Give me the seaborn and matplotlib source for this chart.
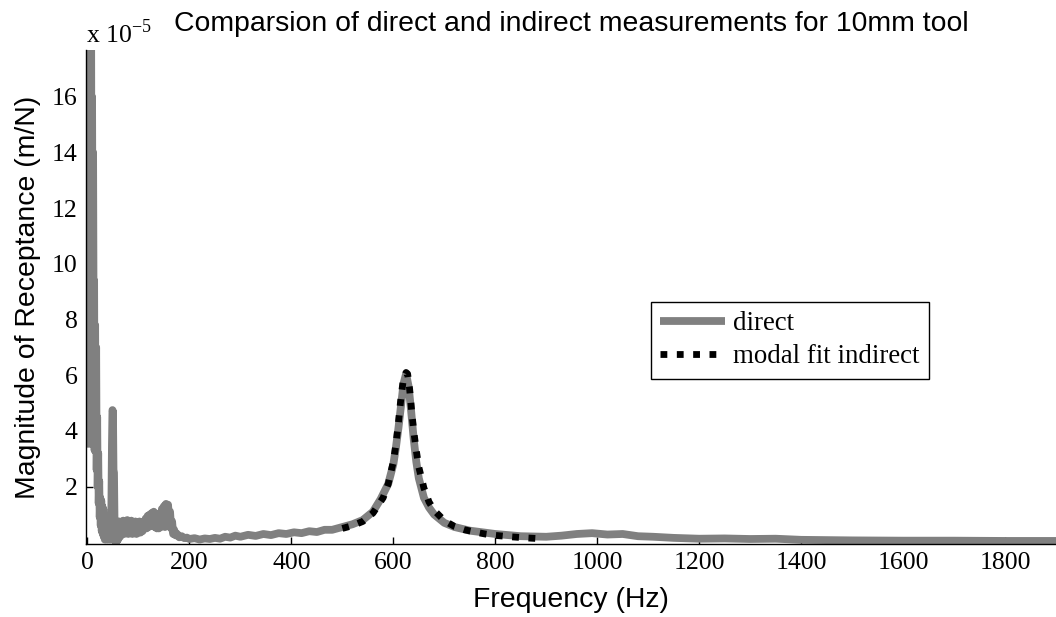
import matplotlib
matplotlib.use("Agg")
import matplotlib.pyplot as plt
import seaborn as sns
import pandas as pd

# Direct measurement: frequency (Hz) and receptance magnitude (x 1e-5 m/N)
direct_freq = [0, 1, 2, 3, 4, 5, 6, 7, 8, 9, 10, 11, 12, 13, 14, 15, 16, 17, 18, 19,
               20, 21, 22, 23, 24, 25, 26, 27, 28, 29, 30, 31, 32, 33, 34, 35, 36, 37,
               38, 39, 40, 41, 42, 43, 44, 45, 46, 47, 48, 49, 50, 51, 52, 53, 54, 55,
               56, 57, 58, 59, 60, 62, 64, 66, 68, 70, 72, 74, 76, 78, 80, 82, 84, 86,
               88, 90, 92, 94, 96, 98, 100, 102, 104, 106, 108, 110, 112, 114, 116, 118,
               120, 122, 124, 126, 128, 130, 132, 134, 136, 138, 140, 142, 144, 146, 148,
               150, 152, 154, 156, 158, 160, 162, 164, 166, 168, 170, 173, 176, 180, 185,
               190, 195, 200, 210, 220, 230, 240, 250, 260, 270, 280, 290, 300, 315, 330,
               345, 360, 375, 390, 405, 420, 435, 450, 465, 480, 500, 520, 540, 560, 575,
               590, 600, 605, 610, 615, 620, 625, 630, 635, 640, 645, 650, 660, 670, 680,
               700, 720, 750, 800, 850, 900, 930, 960, 990, 1020, 1050, 1080, 1110, 1150,
               1200, 1250, 1300, 1350, 1400, 1500, 1600, 1700, 1800, 1900]
direct_mag = [3.4, 30, 18, 30, 16.3, 25, 16.0, 20, 9.5, 16, 9.4, 14, 7.8, 9.4, 3.3,
              7.8, 3.5, 7.0, 2.6, 4.5, 2.0, 3.2, 1.4, 2.2, 0.9, 1.6, 0.6, 1.5, 0.4, 1.3,
              0.3, 1.2, 0.2, 1.0, 0.1, 0.9, 0.15, 0.8, 0.1, 0.75, 0.15, 0.7, 0.1, 0.75,
              0.2, 0.7, 0.1, 1.5, 3.5, 4.75, 4.7, 2.6, 2.5, 0.8, 0.05, 0.7, 0.0, 0.75,
              0.05, 0.7, 0.1, 0.75, 0.2, 0.72, 0.3, 0.78, 0.3, 0.72, 0.35, 0.8, 0.3,
              0.75, 0.35, 0.78, 0.3, 0.72, 0.35, 0.75, 0.3, 0.7, 0.35, 0.75, 0.35, 0.72,
              0.4, 0.72, 0.5, 0.85, 0.5, 0.95, 0.55, 1.0, 0.6, 1.05, 0.6, 1.1, 0.55, 1.0,
              0.5, 0.95, 0.5, 1.05, 0.55, 1.2, 0.6, 1.3, 0.55, 1.38, 0.65, 1.35, 0.9, 1.1,
              0.5, 0.75, 0.3, 0.45, 0.25, 0.3, 0.18, 0.22, 0.15, 0.17, 0.12, 0.15, 0.1,
              0.14, 0.12, 0.16, 0.13, 0.2, 0.17, 0.24, 0.2, 0.27, 0.23, 0.3, 0.26, 0.33,
              0.3, 0.36, 0.33, 0.4, 0.37, 0.45, 0.45, 0.55, 0.65, 0.8, 1.1, 1.55, 2.1,
              2.8, 3.4, 4.1, 4.9, 5.7, 6.05, 5.6, 4.7, 3.7, 2.9, 2.3, 1.6, 1.25, 1.0,
              0.7, 0.55, 0.42, 0.3, 0.22, 0.2, 0.24, 0.3, 0.33, 0.28, 0.3, 0.22, 0.2,
              0.16, 0.13, 0.14, 0.12, 0.13, 0.09, 0.07, 0.06, 0.06, 0.05, 0.05]

# Modal fit from the indirect measurement
fit_freq = [500, 520, 540, 560, 580, 590, 600, 605, 610, 615, 620, 625, 628, 632, 636,
            640, 645, 650, 660, 670, 680, 700, 720, 740, 760, 780, 800, 830, 860, 880]
fit_mag = [0.5, 0.6, 0.75, 1.05, 1.6, 2.1, 2.9, 3.5, 4.3, 5.2, 5.9, 6.1, 6.05, 5.5, 4.7,
           4.0, 3.3, 2.7, 1.95, 1.45, 1.15, 0.78, 0.57, 0.45, 0.37, 0.3, 0.25, 0.2,
           0.16, 0.14]

x_ticks = [0, 200, 400, 600, 800, 1000, 1200, 1400, 1600, 1800]
y_ticks = [2, 4, 6, 8, 10, 12, 14, 16]

sns.set_theme(style="white")
plt.rcParams["font.family"] = ["Liberation Sans", "DejaVu Sans"]
plt.rcParams["mathtext.fontset"] = "custom"
plt.rcParams["mathtext.rm"] = "Liberation Serif"
for key in ("text.color", "axes.labelcolor", "xtick.color", "ytick.color"):
    plt.rcParams[key] = "black"

direct = pd.DataFrame({"freq": direct_freq, "mag": direct_mag})
fit = pd.DataFrame({"freq": fit_freq, "mag": fit_mag})

fig = plt.figure(figsize=(10.56, 6.17), dpi=100)
ax = fig.add_axes([0.0814, 0.1183, 0.9186, 0.8006])

sns.lineplot(data=direct, x="freq", y="mag", ax=ax, color="#808080", linewidth=5.6,
             estimator=None, sort=False, label="direct",
             solid_joinstyle="round", solid_capstyle="butt")
sns.lineplot(data=fit, x="freq", y="mag", ax=ax, color="black", linewidth=4.9,
             estimator=None, sort=False, label="modal fit indirect",
             dashes=False, linestyle=(0, (1.0, 1.4)), dash_capstyle="butt")

ax.set_xlim(-3, 1900)
ax.set_ylim(-0.06, 17.68)
ax.set_xticks(x_ticks)
ax.set_yticks(y_ticks)
ax.set_xticklabels([str(v) for v in x_ticks], family="Liberation Serif", fontsize=18.5)
ax.set_yticklabels([str(v) for v in y_ticks], family="Liberation Serif", fontsize=18.5)
ax.tick_params(axis="both", direction="in", length=5, width=1,
               bottom=True, left=True, pad=6)

for side in ("top", "right"):
    ax.spines[side].set_visible(False)
for side in ("left", "bottom"):
    ax.spines[side].set_color("black")
    ax.spines[side].set_linewidth(1)

ax.set_xlabel("Frequency (Hz)", fontsize=20.4, labelpad=9)
ax.set_ylabel("Magnitude of Receptance (m/N)", fontsize=20.4, labelpad=8)
ax.set_title("Comparsion of direct and indirect measurements for 10mm tool",
             fontsize=20.4, x=0.5, pad=14)
ax.text(0.0, 1.005, r"x 10$^{\mathregular{-5}}$", transform=ax.transAxes,
        family="Liberation Serif", fontsize=18.5, ha="left", va="bottom")

leg = ax.legend(loc="upper left", bbox_to_anchor=(0.5825, 0.49), borderaxespad=0,
                frameon=True, fancybox=False, edgecolor="black", framealpha=1,
                prop={"family": "Liberation Serif", "size": 19.4},
                handlelength=2.4, handletextpad=0.3, borderpad=0.35, labelspacing=0.3)
leg.get_frame().set_linewidth(1)

fig.savefig("out.png", dpi=100)
